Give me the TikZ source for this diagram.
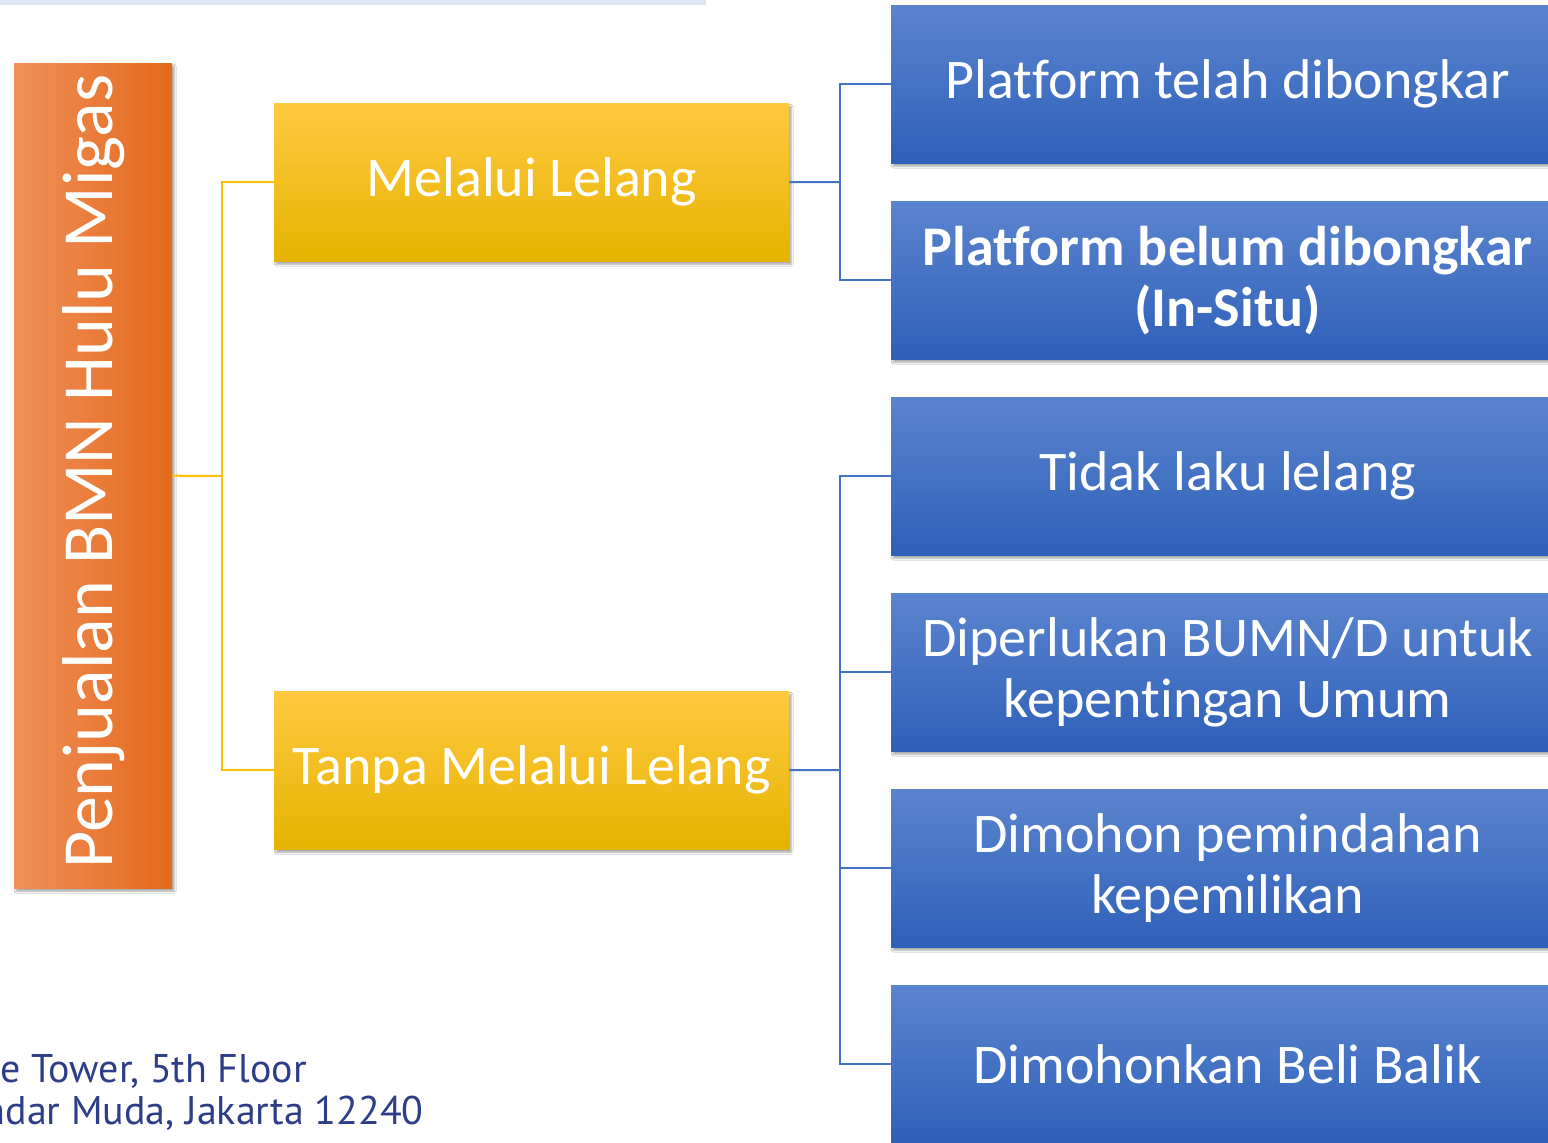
\documentclass[tikz,border=0pt]{standalone}
\usepackage{fontspec}
\setmainfont{Carlito}[Ligatures=NoCommon]
\newfontfamily\addrfont{PT Sans}
\usetikzlibrary{shadows.blur}
\definecolor{bluetop}{HTML}{5B84CE}
\definecolor{bluebot}{HTML}{2E60B9}
\definecolor{yeltop}{HTML}{FFC940}
\definecolor{yelmid}{HTML}{FFC400}
\definecolor{yelbot}{HTML}{E6B300}
\definecolor{orleft}{HTML}{F0905A}
\definecolor{orright}{HTML}{E3691B}
\definecolor{bluelink}{HTML}{4472C4}
\definecolor{goldlink}{HTML}{FFC000}
\definecolor{topbar}{HTML}{DCE6F2}
\definecolor{addr}{HTML}{2E3D87}
\begin{document}
\begin{tikzpicture}[x=1pt,y=-1pt,
  shad/.style={blur shadow={shadow xshift=2pt,shadow yshift=-3pt,shadow blur steps=6,shadow opacity=35}},
  bluebox/.style={shad,anchor=north west,minimum width=673pt,minimum height=158pt,inner sep=0pt,
    top color=bluetop,bottom color=bluebot,text=white,align=center,font=\fontsize{56}{61}\selectfont},
  yelbox/.style={shad,anchor=north west,minimum width=515pt,minimum height=158pt,inner sep=0pt,
    top color=yeltop,middle color=yelmid,bottom color=yelbot,text=white,font=\fontsize{56}{61}\selectfont},
  orbox/.style={shad,anchor=north west,minimum width=158pt,minimum height=825pt,inner sep=0pt,
    left color=orleft,right color=orright},
  bl/.style={draw=bluelink,line width=2pt},
  gl/.style={draw=goldlink,line width=2pt},
  addrtext/.style={text=addr,inner sep=0pt,font=\addrfont\fontsize{40}{42}\selectfont}]
\useasboundingbox (0,0) rectangle (1548,1143);
\clip (0,0) rectangle (1548,1143);
\fill[white] (0,0) rectangle (1548,1143);
\fill[topbar] (0,0) rectangle (706,5);
% boxes
\node[orbox] (or) at (14,63) {};
\node[rotate=90,text=white,font=\fontsize{72}{80}\selectfont] (ort) at ([yshift=4pt]or.center) {Penjualan BMN Hulu Migas};
\node[yelbox] (ml) at (274,103) {Melalui Lelang};
\node[yelbox] (tml) at (274,691) {Tanpa Melalui Lelang};
\node[bluebox] (b1) at (891,5) {Platform telah dibongkar};
\node[bluebox] (b2) at (891,201) {\bfseries Platform belum dibongkar\\\bfseries(In-Situ)};
\node[bluebox] (b3) at (891,397) {Tidak laku lelang};
\node[bluebox] (b4) at (891,593) {Diperlukan BUMN/D untuk\\kepentingan Umum};
\node[bluebox] (b5) at (891,789) {Dimohon pemindahan\\kepemilikan};
\node[bluebox] (b6) at (891,985) {Dimohonkan Beli Balik};
% connectors
\coordinate (j1) at (222,476);
\coordinate (j2) at (840,182);
\coordinate (j3) at (840,770);
\draw[gl] (or.east) -- (j1);
\draw[gl] (ml.west) -| (j1) |- (tml.west);
\draw[bl] (ml.east) -- (j2);
\draw[bl] (b1.west) -| (j2) |- (b2.west);
\draw[bl] (tml.east) -- (j3);
\draw[bl] (b3.west) -| (j3) |- (b6.west);
\draw[bl] (b4.west) -- (b4.west -| j3);
\draw[bl] (b5.west) -- (b5.west -| j3);
% address
\node[addrtext,anchor=base east] (a1) at (307,1082) {e Tower, 5th Floor};
\node[addrtext,anchor=base east] (a2) at (424,1124) {ndar Muda, Jakarta 12240};
\end{tikzpicture}
\end{document}
